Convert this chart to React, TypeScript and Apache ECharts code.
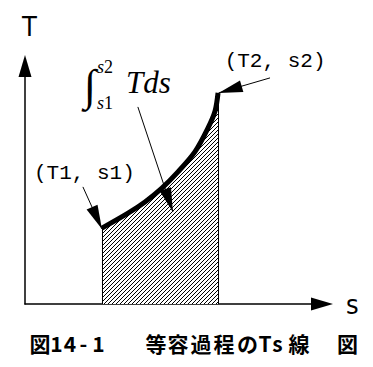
import React, { useEffect, useRef } from 'react';
import * as echarts from 'echarts';

// ---- data (entropy s on x, temperature T on y; arbitrary units 0..10) ----
const S_VALUES = [2.59, 3.47, 4.04, 4.61, 5.15, 5.72, 6.16, 6.4, 6.5];
const T_VALUES = [3.19, 3.82, 4.29, 4.87, 5.55, 6.39, 7.39, 8.11, 8.87];
const X_RANGE = [0, 10];
const Y_RANGE = [0, 10];
const AXIS_NAMES = ['s', 'T'];

const POINT_LABELS = ['(T1, s1)', '(T2, s2)'];
const POINT_LABEL_ANCHORS = [
  [2.0, 5.5],
  [8.42, 10.17],
];
const ARROW_FROM = [
  [1.95, 4.92],
  [8.25, 9.5],
  [3.8, 8.28],
];
const ARROW_TO = [
  [2.59, 3.15],
  [6.52, 8.87],
  [4.98, 3.87],
];
const INTEGRAL_ANCHOR = [2.19, 9.2];
const INTEGRAL_PARTS = ['∫', 's2', 's1', 'Tds'];
const CAPTION = '図14-1　等容過程のTs線図';
// layout: x centre of each visible caption glyph
const CAPTION_X = [40, 56.5, 70, 83.5, 98.5, 156, 178, 201, 224, 247.5, 265, 277.5, 299, 347.5];

function makeHatch(): HTMLCanvasElement {
  const c = document.createElement('canvas');
  c.width = 4;
  c.height = 4;
  const ctx = c.getContext('2d')!;
  const img = ctx.createImageData(4, 4);
  for (let y = 0; y < 4; y++) {
    for (let x = 0; x < 4; x++) {
      const i = (y * 4 + x) * 4;
      const on = (x + y) % 4 === 3;
      img.data[i] = on ? 0 : 255;
      img.data[i + 1] = on ? 0 : 255;
      img.data[i + 2] = on ? 0 : 255;
      img.data[i + 3] = 255;
    }
  }
  ctx.putImageData(img, 0, 0);
  return c;
}

export default function App() {
  const ref = useRef<HTMLDivElement>(null);

  useEffect(() => {
    if (!ref.current) return;
    document.body.style.margin = '0';
    const chart = echarts.init(ref.current, null, { renderer: 'svg' });

    const curve = S_VALUES.map((s, i) => [s, T_VALUES[i]]);
    const n = S_VALUES.length - 1;

    const axisLineBase = {
      show: true,
      onZero: false,
      symbol: ['none', 'triangle'],
      symbolSize: [13, 22],
      lineStyle: { color: '#000', width: 1.5 },
    };
    const axisNameStyle = {
      color: '#000',
      fontSize: 27,
      fontFamily: "'Liberation Sans Narrow', 'DejaVu Sans Condensed', 'Liberation Sans', sans-serif",
    };

    chart.setOption({
      animation: false,
      backgroundColor: '#fff',
      grid: { left: 25, right: 51, top: 66, bottom: 63, outerBoundsMode: 'none' },
      xAxis: {
        type: 'value',
        min: X_RANGE[0],
        max: X_RANGE[1],
        name: AXIS_NAMES[0],
        nameLocation: 'end',
        nameGap: 24,
        nameTextStyle: { ...axisNameStyle, verticalAlign: 'middle' },
        axisLine: axisLineBase,
        axisTick: { show: false },
        axisLabel: { show: false },
        splitLine: { show: false },
      },
      yAxis: {
        type: 'value',
        min: Y_RANGE[0],
        max: Y_RANGE[1],
        name: AXIS_NAMES[1],
        nameLocation: 'end',
        nameGap: 26,
        nameTextStyle: { ...axisNameStyle, align: 'left', padding: [0, 0, 0, -3] },
        axisLine: axisLineBase,
        axisTick: { show: false },
        axisLabel: { show: false },
        splitLine: { show: false },
      },
      series: [
        {
          // hatched area under the curve (∫ T ds) with its vertical edges at s1 and s2
          type: 'line',
          data: curve,
          symbol: 'none',
          smooth: 0.3,
          silent: true,
          z: 2,
          lineStyle: { width: 0, color: 'transparent' },
          areaStyle: {
            opacity: 1,
            origin: 'start',
            color: { image: makeHatch(), repeat: 'repeat', imageWidth: 4, imageHeight: 4 },
          },
          markLine: {
            silent: true,
            animation: false,
            symbol: 'none',
            label: { show: false },
            emphasis: { disabled: true },
            lineStyle: { color: '#000', width: 1, type: 'solid' },
            data: [
              [{ coord: [S_VALUES[0], Y_RANGE[0]] }, { coord: [S_VALUES[0], T_VALUES[0]] }],
              [{ coord: [S_VALUES[n], Y_RANGE[0]] }, { coord: [S_VALUES[n], T_VALUES[n]] }],
            ],
          },
        },
        {
          type: 'line',
          data: curve,
          symbol: 'none',
          smooth: 0.3,
          silent: true,
          z: 3,
          lineStyle: { color: '#000', width: 5 },
          markLine: {
            silent: true,
            animation: false,
            label: { show: false },
            emphasis: { disabled: true },
            lineStyle: { color: '#000', width: 1, type: 'solid' },
            data: ARROW_FROM.map((f, i) => [
              { coord: f, symbol: 'none' },
              {
                coord: ARROW_TO[i],
                symbol: 'triangle',
                symbolSize: [12, 24],
                symbolOffset: [0, '50%'],
              },
            ]),
          },
        },
      ],
    });

    const px = (p: number[]) => chart.convertToPixel({ gridIndex: 0 }, p) as number[];
    const labelFont = "21px 'Liberation Mono', 'DejaVu Sans Mono', monospace";
    const graphics: any[] = [];
    POINT_LABELS.forEach((t, i) => {
      const [x, y] = px(POINT_LABEL_ANCHORS[i]);
      graphics.push({
        type: 'text',
        x,
        y,
        style: { text: t, font: labelFont, fill: '#000', align: 'center', verticalAlign: 'middle' },
      });
    });

    const [ax, ay] = px(INTEGRAL_ANCHOR);
    const serif = "'Liberation Serif', 'Times New Roman', serif";
    graphics.push({
      type: 'group',
      x: ax,
      y: ay,
      children: [
        {
          type: 'text',
          x: 0,
          y: 0,
          style: { text: INTEGRAL_PARTS[0], font: `44px ${serif}`, fill: '#000', align: 'center', verticalAlign: 'middle' },
        },
        {
          type: 'text',
          x: 7,
          y: -18,
          style: {
            text: `{i|${INTEGRAL_PARTS[1][0]}}{n|${INTEGRAL_PARTS[1].slice(1)}}`,
            align: 'left',
            verticalAlign: 'middle',
            rich: {
              i: { font: `italic 18px ${serif}`, fill: '#000' },
              n: { font: `18px ${serif}`, fill: '#000' },
            },
          },
        },
        {
          type: 'text',
          x: 7,
          y: 18,
          style: {
            text: `{i|${INTEGRAL_PARTS[2][0]}}{n|${INTEGRAL_PARTS[2].slice(1)}}`,
            align: 'left',
            verticalAlign: 'middle',
            rich: {
              i: { font: `italic 18px ${serif}`, fill: '#000' },
              n: { font: `18px ${serif}`, fill: '#000' },
            },
          },
        },
        {
          type: 'text',
          x: 36,
          y: -3,
          style: { text: INTEGRAL_PARTS[3], font: `italic 31px ${serif}`, fill: '#000', align: 'left', verticalAlign: 'middle' },
        },
      ],
    });

    const glyphs = Array.from(CAPTION).filter((c) => c !== '　');
    glyphs.forEach((c, i) => {
      graphics.push({
        type: 'text',
        x: CAPTION_X[i],
        y: 342.5,
        style: {
          text: c,
          font: "bold 21px 'Noto Sans CJK JP', sans-serif",
          fill: '#000',
          align: 'center',
          verticalAlign: 'middle',
        },
      });
    });

    chart.setOption({ graphic: graphics });

    return () => chart.dispose();
  }, []);

  return (
    <div
      ref={ref}
      style={{ position: 'fixed', left: 0, top: 0, width: 373, height: 367, background: '#fff' }}
    />
  );
}
